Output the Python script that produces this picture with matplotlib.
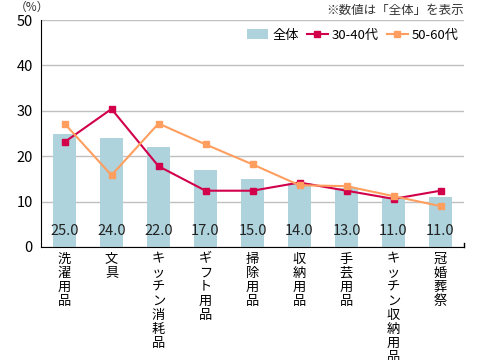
import matplotlib
matplotlib.use("Agg")
import matplotlib.pyplot as plt
import numpy as np

plt.rcParams['font.family'] = ['Noto Sans CJK JP', 'DejaVu Sans']

# data
categories = ["洗濯用品", "文具", "キッチン消耗品", "ギフト用品", "掃除用品",
              "収納用品", "手芸用品", "キッチン収納用品", "冠婚葬祭"]
total = [25.0, 24.0, 22.0, 17.0, 15.0, 14.0, 13.0, 11.0, 11.0]
age_30_40 = [23.1, 30.4, 17.8, 12.4, 12.4, 14.2, 12.4, 10.6, 12.4]
age_50_60 = [27.2, 15.8, 27.2, 22.6, 18.2, 13.6, 13.4, 11.2, 9.0]
yticks = [0, 10, 20, 30, 40, 50]

bar_color = "#aed3dc"
c_3040 = "#d2004b"
c_5060 = "#ff9e5e"

fig = plt.figure(figsize=(4.8, 3.6), dpi=100)
ax = fig.add_axes([41/480, 1 - 247/360, 423/480, 227/360])

x = np.arange(len(categories))
bars = ax.bar(x, total, width=0.5, color=bar_color, label="全体", zorder=2)
l1, = ax.plot(x, age_30_40, color=c_3040, marker="s", markersize=5, lw=1.5,
              label="30-40代", zorder=3)
l2, = ax.plot(x, age_50_60, color=c_5060, marker="s", markersize=5, lw=1.5,
              label="50-60代", zorder=3)

# value labels inside bars
for xi, v in zip(x, total):
    ax.text(xi, 3.5, f"{v:.1f}", ha="center", va="center", fontsize=10.5,
            color="#222222", zorder=4)

ax.set_xlim(-0.5, len(categories) - 0.5)
ax.set_ylim(0, 50)
ax.set_yticks(yticks)
ax.yaxis.grid(True, color="#c0c0c0", lw=1, zorder=0)
ax.set_axisbelow(True)
ax.tick_params(axis="y", length=0, labelsize=10.5, pad=6)
ax.tick_params(axis="x", length=0, pad=4)
ax.set_xticks(x)
ax.set_xticklabels(["\n".join(c) for c in categories], fontsize=9.5,
                   va="top", linespacing=1.1)

ax.spines["top"].set_visible(False)
ax.spines["right"].set_visible(False)
ax.spines["left"].set_color("black")
ax.spines["bottom"].set_color("black")
ax.plot([len(categories) - 0.5] * 2, [0, 0.8], color="black", lw=1,
        clip_on=False, zorder=5)

fig.text(15/480, 1 - 7/360, "（%）", fontsize=8.5, va="center", ha="left",
         color="#333333")
fig.text(464/480, 1 - 10/360, "※数値は「全体」を表示", fontsize=9,
         va="center", ha="right", color="#333333")

ax.legend([bars, l1, l2], ["全体", "30-40代", "50-60代"],
          loc="upper right", bbox_to_anchor=(1.0, 0.985), ncol=3, frameon=False,
          fontsize=9.5, handlelength=1.6, handletextpad=0.3, columnspacing=0.6,
          borderaxespad=0)

fig.savefig("out.png", dpi=100)
